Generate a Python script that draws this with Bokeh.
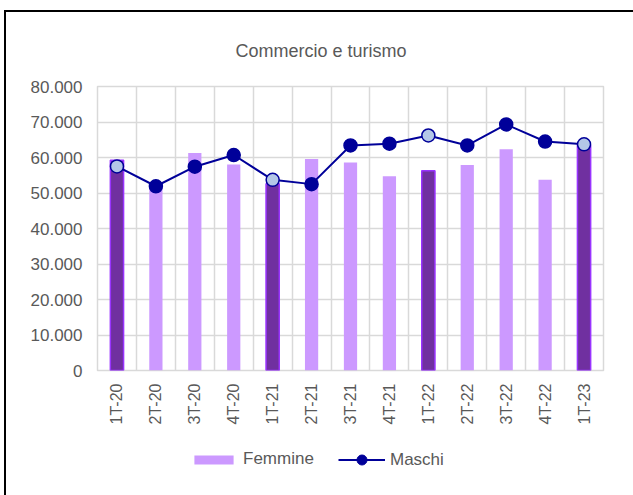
import math
from bokeh.plotting import figure
from bokeh.models import (ColumnDataSource, FixedTicker, Legend, LegendItem,
                          Range1d, Column)
from bokeh.embed import file_html
from bokeh.resources import INLINE

# Quarterly employment, "Commercio e turismo" sector
quarters = ["1T-20", "2T-20", "3T-20", "4T-20", "1T-21", "2T-21", "3T-21",
            "4T-21", "1T-22", "2T-22", "3T-22", "4T-22", "1T-23"]
femmine = [59200, 51500, 61300, 58000, 52600, 59600, 58600,
           54700, 56300, 57900, 62300, 53700, 63500]
maschi = [57500, 51900, 57400, 60700, 53700, 52500, 63400,
          63900, 66200, 63400, 69300, 64500, 63700]

y_ticks = [0, 10000, 20000, 30000, 40000, 50000, 60000, 70000, 80000]
y_tick_labels = ["0", "10.000", "20.000", "30.000", "40.000",
                 "50.000", "60.000", "70.000", "80.000"]
title_text = "Commercio e turismo"
series_names = ["Femmine", "Maschi"]

FONT = "Liberation Sans"
TEXT = "#595959"
GRID = "#D9D9D9"
NAVY = "#000099"
LILAC = "#CC99FF"
PURPLE = "#7030A0"

xs = list(range(len(quarters)))
is_q1 = [q.startswith("1T") for q in quarters]


def subset(flags):
    idx = [i for i, f in enumerate(flags) if f]
    return ColumnDataSource(dict(
        x=[xs[i] for i in idx],
        femmine=[femmine[i] for i in idx],
        maschi=[maschi[i] for i in idx],
    ))


src_q1 = subset(is_q1)
src_rest = subset([not f for f in is_q1])
src_all = ColumnDataSource(dict(x=xs, femmine=femmine, maschi=maschi))

p = figure(width=627, height=423,
           x_range=Range1d(-0.5, len(quarters) - 0.5),
           y_range=Range1d(0, 80000),
           output_backend="svg", toolbar_location=None,
           min_border_left=91, min_border_right=30,
           min_border_top=74, min_border_bottom=65,
           background_fill_color="white", border_fill_color="white")

# Title
p.title.text = title_text
p.title.align = "left"
p.title.offset = 138
p.title.standoff = 52
p.title.text_font = FONT
p.title.text_font_size = "18px"
p.title.text_font_style = "normal"
p.title.text_color = TEXT

# Bars: female employment, first quarters highlighted
p.vbar(x="x", top="femmine", width=0.34, source=src_rest,
       fill_color=LILAC, line_color=None)
p.vbar(x="x", top="femmine", width=0.34, source=src_q1,
       fill_color=PURPLE, line_color="#9933FF", line_width=1.5)

# Line: male employment
p.line(x="x", y="maschi", source=src_all, line_color=NAVY, line_width=2)
p.scatter(x="x", y="maschi", source=src_rest, size=13,
          fill_color=NAVY, line_color=NAVY, line_width=1.5)
p.scatter(x="x", y="maschi", source=src_q1, size=13,
          fill_color="#B4C7E7", line_color=NAVY, line_width=1.5)

# Grid
p.outline_line_color = GRID
p.outline_line_width = 1.5
p.ygrid.ticker = FixedTicker(ticks=y_ticks)
p.ygrid.grid_line_color = GRID
p.ygrid.grid_line_width = 1.5
p.xgrid.ticker = FixedTicker(ticks=[x + 0.5 for x in xs[:-1]])
p.xgrid.grid_line_color = GRID
p.xgrid.grid_line_width = 1.5

# Axes
yax = p.yaxis[0]
yax.ticker = FixedTicker(ticks=y_ticks)
yax.major_label_overrides = dict(zip(y_ticks, y_tick_labels))
yax.axis_line_color = None
yax.major_tick_line_color = None
yax.minor_tick_line_color = None
yax.major_tick_out = 0
yax.major_label_standoff = 15
yax.major_label_text_font = FONT
yax.major_label_text_font_size = "17px"
yax.major_label_text_color = TEXT

xax = p.xaxis[0]
xax.ticker = FixedTicker(ticks=xs)
xax.major_label_overrides = dict(zip(xs, quarters))
xax.major_label_orientation = math.pi / 2
xax.axis_line_color = None
xax.major_tick_line_color = None
xax.minor_tick_line_color = None
xax.major_tick_out = 0
xax.major_label_standoff = 13
xax.major_label_text_font = FONT
xax.major_label_text_font_size = "16px"
xax.major_label_text_color = TEXT

# Legend strip under the chart; its key renderers are hidden, only the
# legend entries are drawn
leg_fig = figure(width=627, height=60, output_backend="svg",
                 toolbar_location=None, x_axis_type=None, y_axis_type=None,
                 min_border_left=0, min_border_right=0,
                 min_border_top=0, min_border_bottom=0,
                 outline_line_color=None, background_fill_color="white",
                 border_fill_color="white")
leg_fig.grid.visible = False
key_bar = leg_fig.vbar(x="x", top="femmine", width=0.34, source=src_all,
                       fill_color=LILAC, line_color=None, visible=False)
key_line = leg_fig.line(x="x", y="maschi", source=src_all, line_color=NAVY,
                        line_width=2, visible=False)
key_dot = leg_fig.scatter(x="x", y="maschi", source=src_all,
                          fill_color=NAVY, line_color=NAVY, visible=False)

legend_style = dict(orientation="horizontal", label_standoff=5,
                    padding=0, margin=0, border_line_color=None,
                    background_fill_alpha=0, inactive_fill_alpha=0,
                    label_text_font=FONT, label_text_font_size="17px",
                    label_text_color=TEXT)
leg_f = Legend(items=[LegendItem(label=series_names[0], renderers=[key_bar])],
               location=(92, 26), glyph_width=49, glyph_height=11,
               **legend_style)
leg_m = Legend(items=[LegendItem(label=series_names[1],
                                 renderers=[key_line, key_dot])],
               location=(241, 23), glyph_width=47, glyph_height=25,
               **legend_style)
leg_fig.add_layout(leg_f, "center")
leg_fig.add_layout(leg_m, "center")

# Chart box with left/top border
page = Column(children=[p, leg_fig], margin=(10, 0, 0, 4), spacing=0,
              styles={"border-left": "2px solid black",
                      "border-top": "2px solid black"})

open("out.html", "w").write(file_html(page, INLINE))
